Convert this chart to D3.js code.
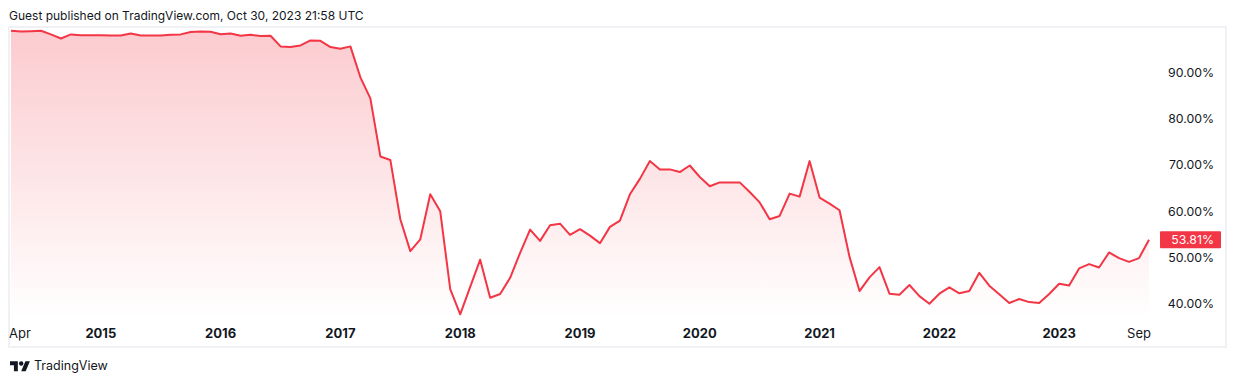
<!DOCTYPE html>
<html>
<head>
<meta charset="utf-8">
<script src="https://cdn.jsdelivr.net/npm/d3@7"></script>
<style>
  body { margin: 0; background: #fff; }
  svg text { font-family: Inter, Roboto, "Open Sans", sans-serif; fill: #131722; }
</style>
</head>
<body>
<div id="chart"></div>
<script>
// Monthly series, Apr 2014 .. Oct 2023 (percent)
const startMonth = "2014-04";
const values = [
  99.07, 98.9, 99.0, 99.1, 98.3, 97.4, 98.3, 98.1, 98.1, 98.1,
  98.05, 98.05, 98.5, 98.05, 98.05, 98.05, 98.2, 98.3, 98.8, 98.9,
  98.85, 98.35, 98.5, 98.0, 98.2, 97.95, 98.0, 95.7, 95.55, 95.9,
  97.0, 96.9, 95.55, 95.2, 95.7, 89.0, 84.45, 71.86, 71.1, 58.25,
  51.34, 53.9, 63.65, 59.98, 43.1, 37.66, 43.6, 49.5, 41.25, 42.05,
  45.57, 50.97, 56.0, 53.56, 56.95, 57.3, 54.87, 56.1, 54.7, 53.07,
  56.6, 57.96, 63.65, 67.0, 70.85, 69.05, 69.05, 68.47, 69.9, 67.4,
  65.4, 66.24, 66.24, 66.24, 64.15, 61.9, 58.25, 58.97, 63.8, 63.15,
  70.85, 62.94, 61.64, 60.2, 50.1, 42.7, 45.66, 47.88, 42.12, 41.9,
  44.0, 41.6, 39.96, 42.12, 43.5, 42.2, 42.7, 46.65, 43.85, 41.98,
  40.1, 40.97, 40.3, 40.1, 42.05, 44.28, 43.9, 47.6, 48.53, 47.8,
  51.05, 49.83, 49.03, 49.83, 53.81
];

const tickMonths = ["2014-04", "2015-01", "2016-01", "2017-01", "2018-01", "2019-01", "2020-01", "2021-01", "2022-01", "2023-01", "2023-09"];
const tickLabels = ["Apr", "2015", "2016", "2017", "2018", "2019", "2020", "2021", "2022", "2023", "Sep"];
const tickBold = [false, true, true, true, true, true, true, true, true, true, false];

const priceTicks = [40, 50, 60, 70, 80, 90];

const width = 1236;
const height = 382;
const paneLeft = 9, paneRight = 1150, paneTop = 27, paneBottom = 318;
const lineColor = "#F23645";

const parseMonth = d3.timeParse("%Y-%m");
const start = parseMonth(startMonth);
const monthIndex = m => d3.timeMonth.count(start, parseMonth(m));

const svg = d3.select("#chart")
    .append("svg")
    .attr("width", width)
    .attr("height", height);

const x = d3.scaleLinear()
    .domain([0, values.length - 1])
    .range([11, 1149]);

const y = d3.scaleLinear()
    .domain([40, 90])
    .range([303.5, 72.7]);

// header
svg.append("text")
    .attr("x", 9)
    .attr("y", 20)
    .style("font-size", "12px")
    .text("Guest published on TradingView.com, Oct 30, 2023 21:58 UTC");

// frame
svg.append("rect")
    .attr("x", 9)
    .attr("y", 27)
    .attr("width", 1217)
    .attr("height", 320)
    .attr("fill", "none")
    .attr("stroke", "#eff1f5")
    .attr("stroke-width", 2);

const defs = svg.append("defs");
const grad = defs.append("linearGradient")
    .attr("id", "areaGrad")
    .attr("gradientUnits", "userSpaceOnUse")
    .attr("x1", 0).attr("x2", 0)
    .attr("y1", y(d3.max(values))).attr("y2", paneBottom);
grad.append("stop").attr("offset", "0%").attr("stop-color", lineColor).attr("stop-opacity", 0.26);
grad.append("stop").attr("offset", "100%").attr("stop-color", lineColor).attr("stop-opacity", 0.0);

const area = d3.area()
    .x((d, i) => x(i))
    .y0(paneBottom)
    .y1(d => y(d));

const line = d3.line()
    .x((d, i) => x(i))
    .y(d => y(d));

svg.append("path")
    .datum(values)
    .attr("d", area)
    .attr("fill", "url(#areaGrad)");

svg.append("path")
    .datum(values)
    .attr("d", line)
    .attr("fill", "none")
    .attr("stroke", lineColor)
    .attr("stroke-width", 2)
    .attr("stroke-linejoin", "round");

// price scale
svg.append("g")
    .selectAll("text")
    .data(priceTicks)
    .enter()
    .append("text")
    .attr("x", 1214)
    .attr("y", d => y(d))
    .attr("dy", "0.36em")
    .attr("text-anchor", "end")
    .style("font-size", "12.3px")
    .text(d => d.toFixed(2) + "%");

// last value label
const last = values[values.length - 1];
svg.append("rect")
    .attr("x", 1160)
    .attr("y", y(last) - 8.5)
    .attr("width", 61)
    .attr("height", 17)
    .attr("rx", 1)
    .attr("fill", lineColor);

svg.append("text")
    .attr("x", 1214)
    .attr("y", y(last))
    .attr("dy", "0.36em")
    .attr("text-anchor", "end")
    .style("font-size", "12.3px")
    .style("fill", "#fff")
    .text(last.toFixed(2) + "%");

// time scale
svg.append("g")
    .selectAll("text")
    .data(tickLabels)
    .enter()
    .append("text")
    .attr("x", (d, i) => i === 0 ? paneLeft : x(monthIndex(tickMonths[i])))
    .attr("y", 333)
    .attr("dy", "0.36em")
    .attr("text-anchor", (d, i) => i === 0 ? "start" : "middle")
    .style("font-size", "13px")
    .style("font-weight", (d, i) => tickBold[i] ? "700" : "400")
    .text(d => d);

// logo
const logo = svg.append("g")
    .attr("transform", "translate(10, 359) scale(0.56)");
logo.append("path")
    .attr("d", "M14 22H7V11H0V4h14v18zM28 22h-8l7.5-18h8L28 22z")
    .attr("fill", "#131722");
logo.append("circle")
    .attr("cx", 20).attr("cy", 8).attr("r", 4)
    .attr("fill", "#131722");

svg.append("text")
    .attr("x", 34)
    .attr("y", 370)
    .style("font-size", "12.5px")
    .text("TradingView");
</script>
</body>
</html>
